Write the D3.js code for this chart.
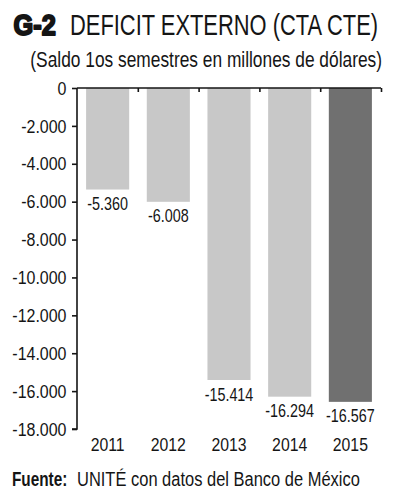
<!DOCTYPE html>
<html><head><meta charset="utf-8">
<script src="https://cdnjs.cloudflare.com/ajax/libs/d3/7.8.5/d3.min.js"></script>
<style>
html,body{margin:0;padding:0;background:#fff;}
text{font-family:"Liberation Sans",Arial,sans-serif;fill:#151515;}
</style></head>
<body><svg id="c" width="396" height="500"></svg>
<script>
const years = ["2011","2012","2013","2014","2015"];
const values = [-5360,-6008,-15414,-16294,-16567];
const valueLabels = ["-5.360","-6.008","-15.414","-16.294","-16.567"];
const yTicks = [0,-2000,-4000,-6000,-8000,-10000,-12000,-14000,-16000,-18000];
const yTickLabels = ["0","-2.000","-4.000","-6.000","-8.000","-10.000","-12.000","-14.000","-16.000","-18.000"];
const barColors = ["#c8c8c8","#c8c8c8","#c8c8c8","#c8c8c8","#707070"];

const svg = d3.select("#c");
const x = d3.scaleBand().domain(years).range([77,381]).paddingInner(0.29).paddingOuter(0.15);
const y = d3.scaleLinear().domain([0,-18000]).range([88,429]);

function ctext(px, py, size, sx, anchor, str, weight){
  return svg.append("text")
    .attr("transform",`translate(${px},${py}) scale(${sx},1)`)
    .attr("text-anchor",anchor||"start")
    .style("font-size",size+"px")
    .style("font-weight",weight||"normal")
    .text(str);
}

// title
ctext(13.5,35,29.5,0.86,"start","G-2","bold").attr("stroke","#151515").attr("stroke-width",2).attr("stroke-linejoin","round");
ctext(70,35,29.5,0.742,"start","DEFICIT EXTERNO (CTA CTE)");
ctext(382,67,21.5,0.807,"end","(Saldo 1os semestres en millones de dólares)");

// bars
svg.selectAll("rect.bar").data(years).join("rect").attr("class","bar")
  .attr("x",d=>x(d)).attr("width",x.bandwidth())
  .attr("y",y(0)).attr("height",(d,i)=>y(values[i])-y(0))
  .attr("fill",(d,i)=>barColors[i]);

// value labels
years.forEach((d,i)=>{
  ctext(x(d)+x.bandwidth()/2, y(values[i])+20.5, 18.4, 0.78, "middle", valueLabels[i]);
});

// y axis
const sy = 0.85;
const yAxis = d3.axisLeft(y).tickValues(yTicks).tickFormat((d,i)=>yTickLabels[i]).tickSize(5).tickPadding(5);
const ga = svg.append("g").attr("transform","translate(77,0)").call(yAxis);
ga.select(".domain").attr("stroke","#151515").attr("stroke-width",1.6).attr("d","M-5,429H0V88");
ga.selectAll(".tick line").attr("stroke","#151515").attr("stroke-width",1.6);
ga.selectAll(".tick text").style("font-size","18.8px").attr("fill","#151515")
  .style("font-family",null).attr("font-family",null)
  .attr("x",-10.5/sy).attr("transform",`scale(${sy},1)`).attr("dy","0.33em");

// top x axis line with ticks at band boundaries
const xa = d3.axisBottom(d3.scaleLinear().domain([0,5]).range([77,381])).tickValues([1,2,3,4,5]).tickSize(4).tickFormat("");
const gx = svg.append("g").attr("transform","translate(0,88)").call(xa);
gx.select(".domain").attr("stroke","#151515").attr("stroke-width",1.6).attr("d","M77,0H381");
gx.selectAll(".tick line").attr("stroke","#151515").attr("stroke-width",1.6);

// year labels
years.forEach(d=>{
  ctext(x(d)+x.bandwidth()/2, 451, 18.8, 0.84, "middle", d);
});

// source
ctext(12,486,21,0.73,"start","Fuente:","bold");
ctext(77,486,21,0.785,"start","UNITÉ con datos del Banco de México");
</script></body></html>
